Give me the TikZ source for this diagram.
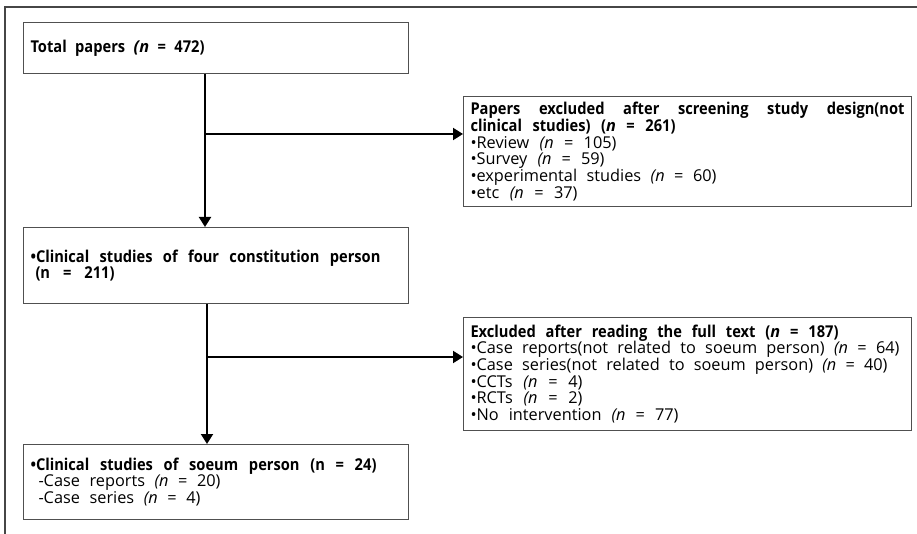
\documentclass[tikz,border=0pt]{standalone}
\usepackage{fontspec}
\setmainfont{Open Sans}[BoldFeatures={FakeStretch=0.9}]
\usetikzlibrary{arrows.meta}
\definecolor{boxgray}{RGB}{80,80,80}
\definecolor{framegray}{RGB}{70,70,70}
\newcommand\bxsetup{\fontsize{16.3}{16.7}\selectfont\spaceskip=0.3em plus 1fil\relax\hyphenpenalty=10000\relax\hbadness=10000\hfuzz=40pt\relax}
% one text line stretched to a given width
\newcommand\tl[2]{\leavevmode\hbox to #1pt{#2}}
\tikzset{
  box/.style={draw=boxgray, line width=1pt, anchor=north west, inner xsep=7pt, inner ysep=0pt,
    align=left, execute at begin node=\bxsetup},
  conn/.style={line width=2pt, draw=black},
  arr/.style={conn, -{Triangle[length=10pt,width=12pt]}},
  frame/.style={draw=framegray, line width=1.5pt}
}
\begin{document}
\begin{tikzpicture}[x=1pt,y=-1pt]
\useasboundingbox (0,0) rectangle (917,534);
\coordinate (f1) at (5,7);
\coordinate (f2) at (917,7);
\coordinate (f3) at (5,534);
\draw[frame] (f3) -- (f1) -- (f2);

\node[box, text width=371pt, minimum height=51pt] (b1) at (23,22)
  {\tl{174}{\bfseries Total papers \textit{(n} = 472)}};
\node[box, text width=434pt, minimum height=110pt] (b2) at (463,96)
  {\tl{434}{\bfseries Papers excluded after screening study design(not}\\
   \tl{205}{\bfseries clinical studies) (\textit{n} = 261)}\\
   \tl{146}{•Review \textit{(n} = 105)}\\
   \tl{134}{•Survey \textit{(n} = 59)}\\
   \tl{246}{•experimental studies \textit{(n} = 60)}\\
   \tl{107}{•etc \textit{(n} = 37)}};
\node[box, text width=371pt, minimum height=76pt] (b3) at (23,227)
  {\tl{350}{\bfseries •Clinical studies of four constitution person}\\
   \hspace*{5pt}\tl{79}{\bfseries (n = 211)}};
\node[box, text width=434pt, minimum height=113pt] (b5) at (463,317)
  {\tl{368}{\bfseries Excluded after reading the full text (\textit{n} = 187)}\\
   \tl{429}{•Case reports(not related to soeum person) \textit{(n} = 64)}\\
   \tl{417}{•Case series(not related to soeum person) \textit{(n} = 40)}\\
   \tl{112}{•CCTs \textit{(n} = 4)}\\
   \tl{112}{•RCTs \textit{(n} = 2)}\\
   \tl{208}{•No intervention \textit{(n} = 77)}};
\node[box, text width=371pt, minimum height=75pt] (b4) at (23,444)
  {\tl{346}{\bfseries •Clinical studies of soeum person (n = 24)}\\
   \hspace*{8pt}\tl{182}{-Case reports \textit{(n} = 20)}\\
   \hspace*{8pt}\tl{162}{-Case series \textit{(n} = 4)}};

\coordinate (j1) at (205,134);
\coordinate (j2) at (207,357);
\draw[arr] (b1.south -| j1) -- (b3.north -| j1);
\draw[arr] (j1) -- (j1 -| b2.west);
\draw[arr] (b3.south -| j2) -- (b4.north -| j2);
\draw[arr] (j2) -- (j2 -| b5.west);
\end{tikzpicture}
\end{document}
